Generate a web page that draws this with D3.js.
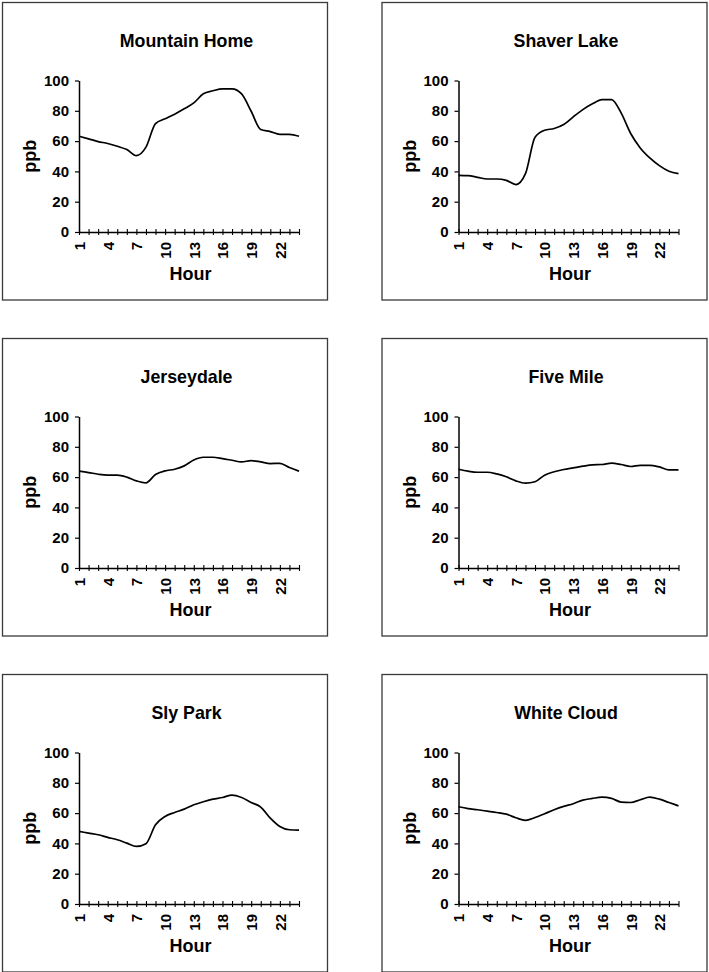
<!DOCTYPE html>
<html><head><meta charset="utf-8">
<script src="https://cdn.jsdelivr.net/npm/d3@7"></script>
<style>
body{margin:0;background:#fff}
svg text{font-family:"Liberation Sans",Arial,sans-serif;font-weight:bold;fill:#000}
</style>
</head><body>
<svg id="c" width="709" height="972"></svg>
<script>
// ---------- data ----------
const hours = [1,2,3,4,5,6,7,8,9,10,11,12,13,14,15,16,17,18,19,20,21,22,23,24];
const stationNames = ["Mountain Home","Shaver Lake","Jerseydale","Five Mile","Sly Park","White Cloud"];
const mountainHome = [63.2,61.5,59.7,58.4,56.6,54.4,50.4,56,71.6,74.7,77.8,81.3,85.2,91.2,93.2,94.5,94.5,91.2,79.7,67.6,66.3,64.5,64.5,63.2];
const shaverLake   = [37.4,37.2,36.1,35,35,34.1,31.3,38.5,62.6,67.2,68.3,70.9,76,80.8,84.6,87.4,87.4,78.6,65,55.5,48.9,43.8,40.1,38.5];
const jerseydale   = [63.9,63,61.9,61.3,61.3,60,57.5,56.2,61.7,64.1,65.2,67.4,71.3,73.1,73.1,72.2,71.1,70,70.9,70,68.9,69.1,66.3,63.9];
const fiveMile     = [65.2,63.9,63.2,63.2,62.1,60.2,57.5,56,56.9,61.3,63.5,65,66.1,67.2,68.1,68.3,69.2,68.3,67,67.8,67.8,66.7,64.8,64.8];
const slyPark      = [47.9,46.8,45.7,44,42.4,40.2,38,39.8,52.3,57.8,60.4,62.6,65.5,67.5,69.2,70.3,71.9,70.3,67,64,56.7,51.2,49,48.8];
const whiteCloud   = [64.2,63,62.2,61.3,60.4,59.3,56.9,55.2,57.1,59.6,62.2,64.4,66.2,68.6,69.7,70.5,69.7,67.3,67,68.8,70.5,69.2,67,64.8];
const yTicks = [0,20,40,60,80,100];
const xTickHours = [1,4,7,10,13,16,19,22];
const xTickLabels = ["1","4","7","10","13","16","19","22"];
const slyParkTickLabels = ["1","4","7","10","13","18","19","22"];
const yLabel = "ppb";
const xLabel = "Hour";

const series = [mountainHome, shaverLake, jerseydale, fiveMile, slyPark, whiteCloud];
const tickLabelSets = [xTickLabels, xTickLabels, xTickLabels, xTickLabels, slyParkTickLabels, xTickLabels];

// ---------- layout ----------
const svg = d3.select("#c");
const colX = [2.5, 382];
const rowY = [2.5, 338.5, 674.5];
const boxW = 325, boxH = 297.5;
const plotL = 76.5, plotW = 220, plotT = 78, plotB = 229.5;

stationNames.forEach((name, i) => {
  const bx = colX[i % 2], by = rowY[Math.floor(i / 2)];
  const g = svg.append("g").attr("transform", `translate(${bx},${by})`);
  g.append("rect").attr("x",0).attr("y",0).attr("width",boxW).attr("height",boxH)
    .attr("fill","none").attr("stroke","#3a3a3a").attr("stroke-width",1.3);

  g.append("text").attr("x",184).attr("y",44.5).attr("text-anchor","middle")
    .style("font-size","17.8px").text(name);

  const x = d3.scaleLinear().domain([hours[0], hours[hours.length-1]]).range([plotL, plotL + plotW]);
  const y = d3.scaleLinear().domain([0,100]).range([plotB, plotT]);

  // y axis
  const ya = g.append("g").attr("transform",`translate(${plotL},0)`)
    .call(d3.axisLeft(y).tickValues(yTicks).tickSize(4).tickSizeOuter(0).tickPadding(6));
  ya.select(".domain").attr("stroke","#000").attr("stroke-width",1.5);
  ya.selectAll(".tick line").attr("stroke","#000").attr("stroke-width",1.2);
  ya.selectAll("text").style("font-size","15px").attr("font-family",null).attr("fill","#000");

  // x axis
  const labels = tickLabelSets[i];
  const xa = g.append("g").attr("transform",`translate(0,${plotB})`)
    .call(d3.axisBottom(x).tickValues(hours).tickSizeOuter(0)
      .tickFormat(h => { const k = xTickHours.indexOf(h); return k >= 0 ? labels[k] : ""; }));
  xa.select(".domain").attr("stroke","#000").attr("stroke-width",1.5);
  xa.selectAll(".tick line").attr("y1",-3).attr("y2",3).attr("stroke","#000").attr("stroke-width",1.1);
  xa.selectAll("text").style("font-size","15px").attr("font-family",null).attr("fill","#000")
    .attr("transform","rotate(-90)").attr("text-anchor","end")
    .attr("x",-10).attr("y",0).attr("dy","0.36em");

  // axis titles
  g.append("text").attr("transform",`translate(33.5,${(plotT+plotB)/2}) rotate(-90)`)
    .attr("text-anchor","middle").style("font-size","18px").text(yLabel);
  g.append("text").attr("x",188).attr("y",277.5).attr("text-anchor","middle")
    .style("font-size","18px").text(xLabel);

  // line
  const line = d3.line().x((d,j) => x(hours[j])).y(d => y(d)).curve(d3.curveMonotoneX);
  g.append("path").datum(series[i]).attr("d",line)
    .attr("fill","none").attr("stroke","#000").attr("stroke-width",1.7).attr("stroke-linejoin","round");
});
</script>
</body></html>
